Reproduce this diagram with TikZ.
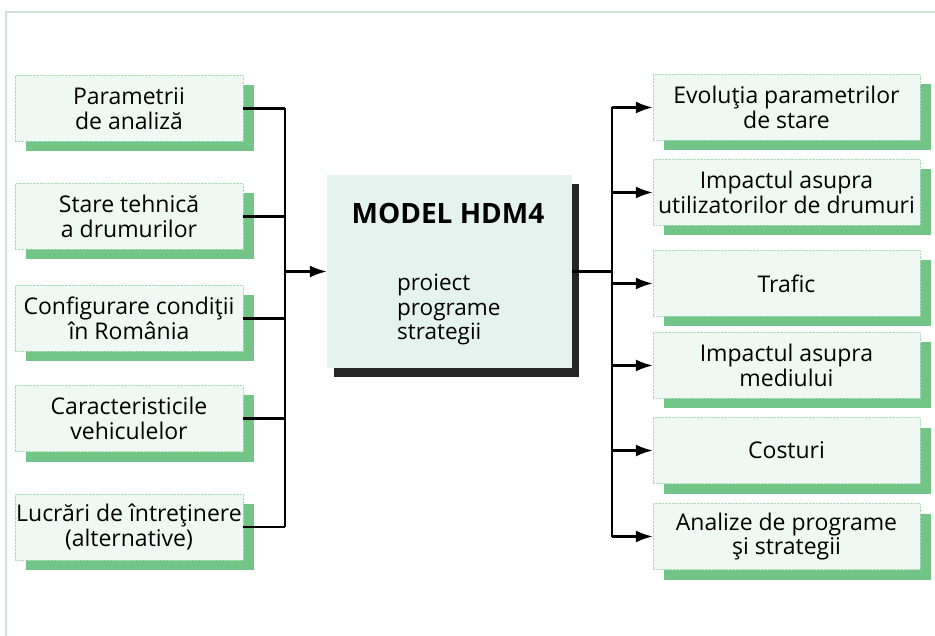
\documentclass[tikz,border=0pt]{standalone}
\usepackage{fontspec}
\setmainfont{Open Sans}
\usetikzlibrary{arrows.meta,positioning,shadows,calc}

\definecolor{boxfill}{HTML}{EFF8F3}
\definecolor{modelfill}{HTML}{E4F3EE}
\definecolor{shadegreen}{HTML}{72C487}
\definecolor{dotgreen}{HTML}{A8DDB8}
\definecolor{framegreen}{HTML}{CFE3D6}
\definecolor{shadedark}{HTML}{262626}

\begin{document}
\begin{tikzpicture}[x=1pt,y=-1pt,
    greenbox/.style={fill=boxfill, draw=dotgreen, densely dotted, inner sep=0pt,
        minimum height=66pt, align=center, font=\fontsize{23}{24.5}\selectfont,
        drop shadow={shadow xshift=11pt, shadow yshift=-10pt, fill=shadegreen, opacity=1}},
    inbox/.style={greenbox, minimum width=228pt},
    outbox/.style={greenbox, minimum width=267pt},
    modelbox/.style={fill=modelfill, draw=none, minimum width=245pt, minimum height=193pt,
        drop shadow={shadow xshift=7pt, shadow yshift=-9pt, fill=shadedark, opacity=1}},
    link/.style={line width=2.2pt, black},
    arr/.style={link, -{Latex[length=17pt,width=12pt]}}]
    \useasboundingbox (0,0) rectangle (935,636);

    % Frame
    \draw[framegreen, line width=1.5pt] (935,12) -- (6,12) -- (6,636);

    % Inputs
    \node[inbox] (in1) at (129,108.5) {Parametrii\\de analiză};
    \node[inbox] (in2) at (129,216.5) {Stare tehnică\\a drumurilor};
    \node[inbox] (in3) at (129,318.5) {Configurare condiţii\\în România};
    \node[inbox] (in4) at (129,418.5) {Caracteristicile\\vehiculelor};
    \node[inbox] (in5) at (129,527) {Lucrări de întreţinere\\(alternative)};

    % Model
    \node[modelbox] (model) at (449.5,271.5) {};
    \node[font=\fontsize{28}{32}\selectfont\bfseries] (title) at (448,213) {MODEL HDM4};
    \node[anchor=north west, align=left, inner sep=0pt, font=\fontsize{22.5}{24.5}\selectfont]
        (tasks) at (397,274) {proiect\\programe\\strategii};

    % Outputs
    \node[outbox] (out1) at (786.5,107.5) {Evoluţia parametrilor\\de stare};
    \node[outbox] (out2) at (786.5,192.5) {Impactul asupra\\utilizatorilor de drumuri};
    \node[outbox] (out3) at (786.5,283.5) {Trafic};
    \node[outbox] (out4) at (786.5,365.5) {Impactul asupra\\mediului};
    \node[outbox] (out5) at (786.5,450.5) {Costuri};
    \node[outbox] (out6) at (786.5,536.5) {Analize de programe\\şi strategii};

    % Collecting bus
    \coordinate (busL) at (285,0);
    \foreach \i in {1,...,5}
        \draw[link] (in\i.east) -- (in\i.east -| busL);
    \draw[link] (in1.east -| busL) -- (in5.east -| busL);
    \draw[arr] (model.west -| busL) -- (model.west);

    % Distributing bus
    \coordinate (busR) at (612,0);
    \draw[link] (model.east) -- (model.east -| busR);
    \draw[link] (out1.west -| busR) -- (out6.west -| busR);
    \foreach \i in {1,...,6}
        \draw[arr] (out\i.west -| busR) -- (out\i.west);
\end{tikzpicture}
\end{document}
